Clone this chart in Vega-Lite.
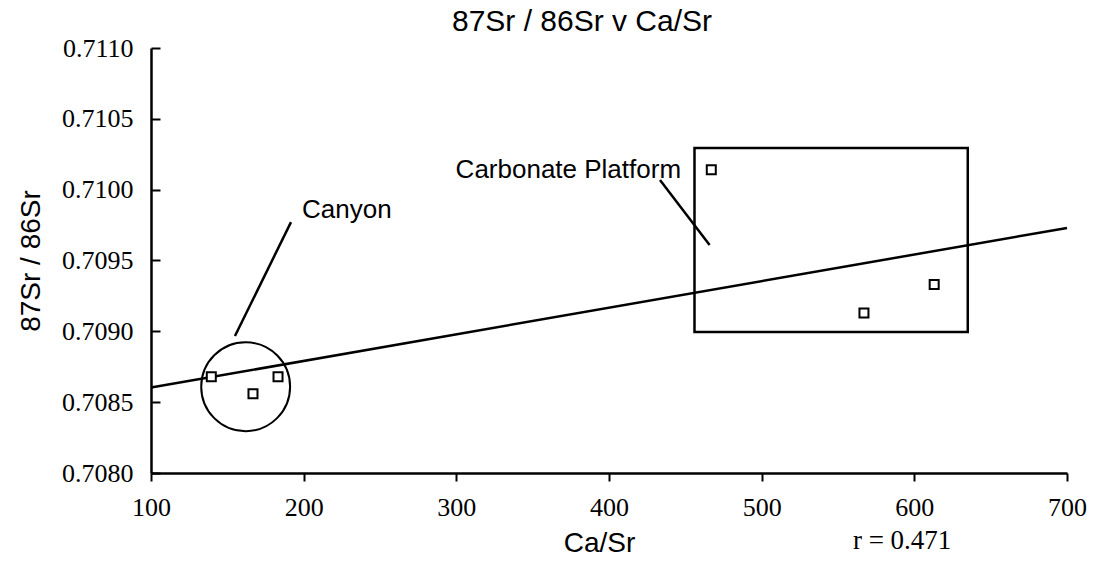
{
  "$schema": "https://vega.github.io/schema/vega-lite/v6.json",
  "autosize": {"type": "none"},
  "padding": {"left": 151, "top": 48, "right": 26, "bottom": 101},
  "width": 916,
  "height": 425,
  "background": "white",
  "config": {"view": {"stroke": null}},
  "title": {"text": "87Sr / 86Sr v Ca/Sr", "font": "Liberation Sans", "fontSize": 30, "fontWeight": "normal", "color": "black", "anchor": "middle", "dx": -27, "offset": -2},
  "datasets": {
    "points": [
      {"ca_sr": 139.5, "sr_ratio": 0.70868},
      {"ca_sr": 166.8, "sr_ratio": 0.70856},
      {"ca_sr": 183.2, "sr_ratio": 0.70868},
      {"ca_sr": 467.0, "sr_ratio": 0.71014},
      {"ca_sr": 567.0, "sr_ratio": 0.70913},
      {"ca_sr": 613.0, "sr_ratio": 0.70933}
    ],
    "fit": [
      {"ca_sr": 100, "sr_ratio": 0.708603},
      {"ca_sr": 700, "sr_ratio": 0.709730}
    ],
    "box": [
      {"x1": 456, "x2": 635, "y1": 0.710294, "y2": 0.708995}
    ],
    "ring": [
      {"ca_sr": 162, "sr_ratio": 0.708609}
    ],
    "pointers": [
      {"x1": 155, "y1": 0.708967, "x2": 191.7, "y2": 0.709771},
      {"x1": 433.4, "y1": 0.710068, "x2": 465.9, "y2": 0.709609}
    ],
    "labels": [
      {"ca_sr": 198.9, "sr_ratio": 0.709856, "label": "Canyon", "align": "left"},
      {"ca_sr": 447.2, "sr_ratio": 0.710138, "label": "Carbonate Platform", "align": "right"}
    ],
    "note": [
      {"ca_sr": 592, "sr_ratio": 0.70752, "label": "r = 0.471"}
    ]
  },
  "layer": [
    {
      "data": {"name": "box"},
      "mark": {"type": "rect", "fill": null, "filled": false, "stroke": "black", "strokeWidth": 2.5},
      "encoding": {
        "x": {"field": "x1", "type": "quantitative", "scale": {"domain": [100, 700], "nice": false, "zero": false},
          "axis": {"values": [100, 200, 300, 400, 500, 600, 700], "grid": false, "domainColor": "black", "domainWidth": 2.5, "tickColor": "black", "tickWidth": 2, "tickSize": 8, "labelFont": "Liberation Serif", "labelFontSize": 26, "labelColor": "black", "labelPadding": 13, "labelFlush": false, "labelOverlap": false, "title": "Ca/Sr", "titleFont": "Liberation Sans", "titleFontSize": 28, "titleFontWeight": "normal", "titleColor": "black", "titlePadding": 9, "titleX": 448}},
        "x2": {"field": "x2"},
        "y": {"field": "y1", "type": "quantitative", "scale": {"domain": [0.708, 0.711], "nice": false, "zero": false},
          "axis": {"values": [0.708, 0.7085, 0.709, 0.7095, 0.71, 0.7105, 0.711], "format": ".4f", "grid": false, "domainColor": "black", "domainWidth": 2.5, "tickColor": "black", "tickWidth": 2, "tickSize": -9, "labelFont": "Liberation Serif", "labelFontSize": 26, "labelColor": "black", "labelPadding": 27, "labelFlush": false, "labelOverlap": false, "title": "87Sr / 86Sr", "titleFont": "Liberation Sans", "titleFontSize": 28, "titleFontWeight": "normal", "titleColor": "black", "titlePadding": 16}},
        "y2": {"field": "y2"}
      }
    },
    {
      "data": {"name": "ring"},
      "mark": {"type": "point", "shape": "circle", "filled": false, "stroke": "black", "strokeWidth": 2, "size": 7900, "opacity": 1},
      "encoding": {
        "x": {"field": "ca_sr", "type": "quantitative"},
        "y": {"field": "sr_ratio", "type": "quantitative"}
      }
    },
    {
      "data": {"name": "fit"},
      "mark": {"type": "line", "color": "black", "strokeWidth": 2.5},
      "encoding": {
        "x": {"field": "ca_sr", "type": "quantitative"},
        "y": {"field": "sr_ratio", "type": "quantitative"}
      }
    },
    {
      "data": {"name": "pointers"},
      "mark": {"type": "rule", "color": "black", "strokeWidth": 2.5},
      "encoding": {
        "x": {"field": "x1", "type": "quantitative"},
        "y": {"field": "y1", "type": "quantitative"},
        "x2": {"field": "x2"},
        "y2": {"field": "y2"}
      }
    },
    {
      "data": {"name": "points"},
      "mark": {"type": "point", "shape": "square", "filled": true, "fill": "white", "stroke": "black", "strokeWidth": 2, "size": 81, "opacity": 1},
      "encoding": {
        "x": {"field": "ca_sr", "type": "quantitative"},
        "y": {"field": "sr_ratio", "type": "quantitative"}
      }
    },
    {
      "data": {"name": "labels"},
      "transform": [{"filter": "datum.align == 'left'"}],
      "mark": {"type": "text", "align": "left", "baseline": "middle", "font": "Liberation Sans", "fontSize": 26, "color": "black"},
      "encoding": {
        "x": {"field": "ca_sr", "type": "quantitative"},
        "y": {"field": "sr_ratio", "type": "quantitative"},
        "text": {"field": "label"}
      }
    },
    {
      "data": {"name": "labels"},
      "transform": [{"filter": "datum.align == 'right'"}],
      "mark": {"type": "text", "align": "right", "baseline": "middle", "font": "Liberation Sans", "fontSize": 26, "color": "black"},
      "encoding": {
        "x": {"field": "ca_sr", "type": "quantitative"},
        "y": {"field": "sr_ratio", "type": "quantitative"},
        "text": {"field": "label"}
      }
    },
    {
      "data": {"name": "note"},
      "mark": {"type": "text", "align": "center", "baseline": "middle", "font": "Liberation Serif", "fontSize": 27, "color": "black"},
      "encoding": {
        "x": {"field": "ca_sr", "type": "quantitative"},
        "y": {"field": "sr_ratio", "type": "quantitative"},
        "text": {"field": "label"}
      }
    }
  ]
}
